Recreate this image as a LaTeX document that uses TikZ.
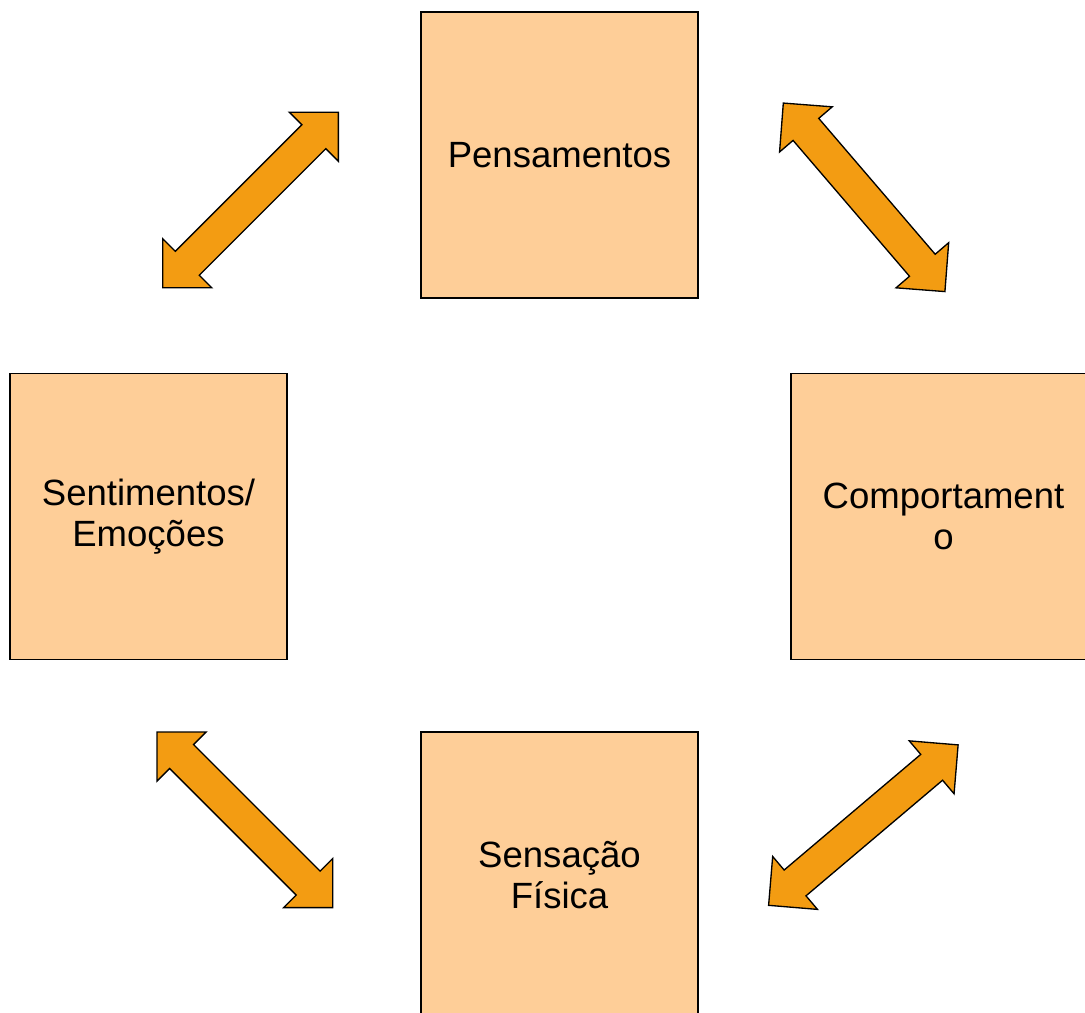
\documentclass[tikz,border=0pt]{standalone}
\usepackage{fontspec}
\setmainfont{Liberation Sans}
\usetikzlibrary{shapes.arrows, positioning}
\definecolor{pessego}{RGB}{254,206,152}
\definecolor{laranja}{RGB}{243,156,18}
\tikzstyle{caixa} = [
rectangle, minimum width=7.33cm, minimum height=7.57cm,
text centered, align=center, draw=black, fill=pessego, line width=0.9pt,
font=\fontsize{27.5}{30.5}\selectfont
]
\tikzstyle{seta} = [
double arrow, double arrow head extend=0.47cm, double arrow tip angle=90,
minimum width=1.8cm, minimum height=6.57cm, inner xsep=0pt, inner ysep=0.43cm,
draw=black, fill=laranja, line width=1pt
]

\begin{document}
\begin{tikzpicture}[node distance=9.565cm]
	\useasboundingbox (-14.803,4.101) rectangle (13.904,-22.675);

	% Caixas
	\node (Pensamentos) [caixa] {Pensamentos};
	\node (Sentimentos) [caixa, below of=Pensamentos, xshift=-10.874cm] {Sentimentos/\\Emoções};
	\node (Comportamento) [caixa, below of=Pensamentos, xshift=10.16cm, minimum width=8.07cm] {Comportament\\o};
	\node (Sensacao) [caixa, below of=Sentimentos, xshift=10.874cm, yshift=0.08cm] {Sensação\\Física};

	% Setas duplas
	\node (Seta_1) [seta, above of=Sentimentos, xshift=2.7cm, yshift=-1.19cm, rotate=45] {};
	\node (Seta_2) [seta, above of=Comportamento, xshift=-2.1cm, yshift=-1.12cm, rotate=-49.4] {};
	\node (Seta_3) [seta, below of=Sentimentos, xshift=2.55cm, yshift=1.54cm, rotate=-45] {};
	\node (Seta_4) [seta, below of=Comportamento, xshift=-2.12cm, yshift=1.4cm, rotate=40.25] {};

\end{tikzpicture}
\end{document}
